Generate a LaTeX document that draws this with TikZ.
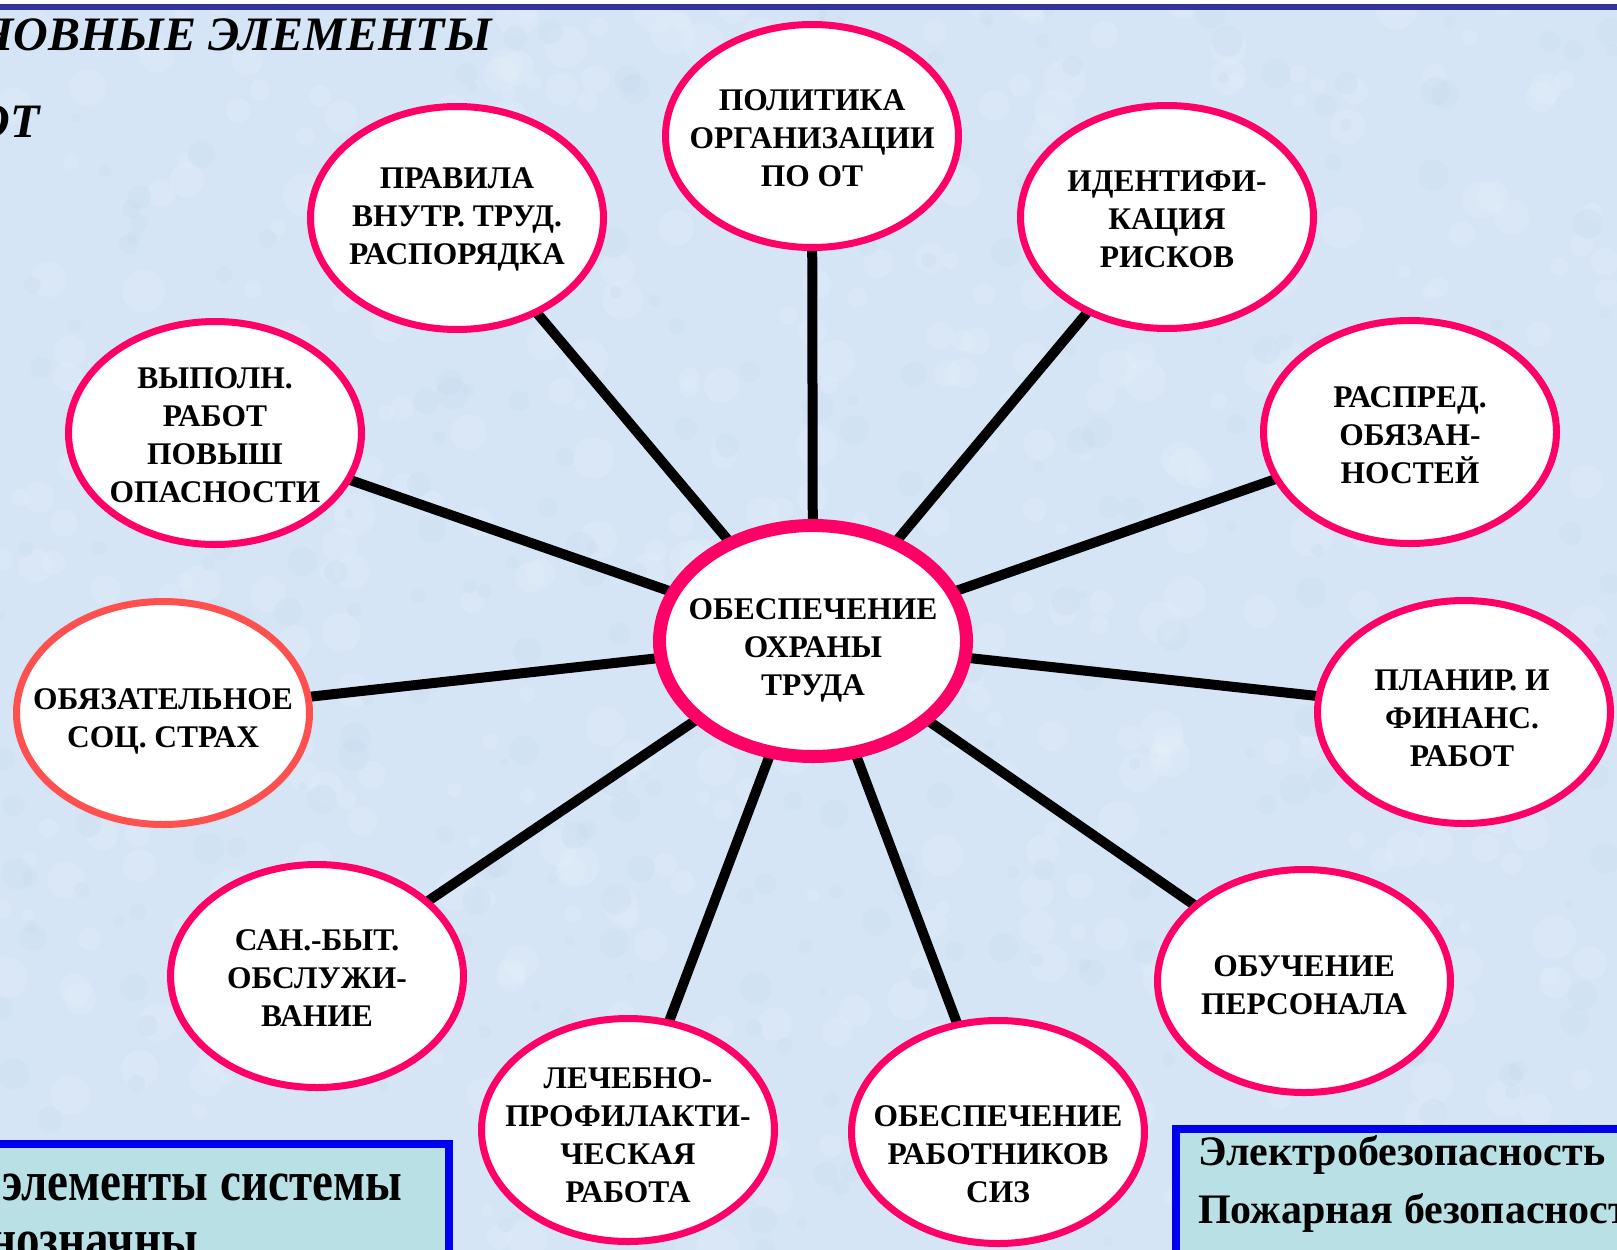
\documentclass[tikz,border=0pt]{standalone}
\usepackage{fontspec}
\setmainfont{Liberation Serif}
\usepackage{graphicx}
\usetikzlibrary{shapes.geometric,backgrounds}
\definecolor{bgblue}{HTML}{D5E5F5}
\definecolor{bgdark}{HTML}{C6DAEF}
\definecolor{pinkred}{HTML}{FF0066}
\definecolor{coral}{HTML}{FF5050}
\definecolor{barblue}{HTML}{333399}
\definecolor{boxblue}{HTML}{0000F0}
\definecolor{boxfill}{HTML}{B9E0E5}
\begin{document}
\begin{tikzpicture}[x=1pt,y=-1pt,
  ell/.style={ellipse,draw=pinkred,line width=7pt,fill=white,minimum width=293pt,minimum height=223pt,inner sep=0pt},
  lbl/.style={font=\fontsize{31.5}{38}\selectfont\bfseries,align=center,inner sep=0pt},
  spoke/.style={line width=10pt,black},
  infobox/.style={draw=boxblue,line width=8pt,fill=boxfill},
  boxtext/.style={inner sep=0pt,font=\bfseries},
  titletext/.style={inner sep=0pt,font=\fontsize{48}{56}\selectfont\bfseries\itshape}]
\useasboundingbox (0,0) rectangle (1617,1250);

% ellipses
\node[ell] (n1) at (812,136) {};
\node[ell] (n2) at (1167,217) {};
\node[ell] (n3) at (1410,432) {};
\node[ell] (n4) at (1464,712) {};
\node[ell] (n5) at (1304,981) {};
\node[ell] (n6) at (998,1132) {};
\node[ell] (n7) at (628,1130) {};
\node[ell] (n8) at (317,976) {};
\node[ell,draw=coral] (n9) at (163,713) {};
\node[ell] (n10) at (215,433) {};
\node[ell] (n11) at (457,218) {};
\node[ell,line width=13pt,minimum width=307pt,minimum height=231pt] (c) at (813,641) {};

% labels
\node[lbl] (t1) at (812,138) {ПОЛИТИКА\\ОРГАНИЗАЦИИ\\ПО ОТ};
\node[lbl] (t2) at (1167,219) {ИДЕНТИФИ-\\КАЦИЯ\\РИСКОВ};
\node[lbl] (t3) at (1410,435) {РАСПРЕД.\\ОБЯЗАН-\\НОСТЕЙ};
\node[lbl] (t4) at (1462,718) {ПЛАНИР. И\\ФИНАНС.\\РАБОТ};
\node[lbl] (t5) at (1304,985) {ОБУЧЕНИЕ\\ПЕРСОНАЛА};
\node[lbl] (t6) at (998,1154) {ОБЕСПЕЧЕНИЕ\\РАБОТНИКОВ\\СИЗ};
\node[lbl] (t7) at (628,1135) {ЛЕЧЕБНО-\\ПРОФИЛАКТИ-\\ЧЕСКАЯ\\РАБОТА};
\node[lbl] (t8) at (317,978) {САН.-БЫТ.\\ОБСЛУЖИ-\\ВАНИЕ};
\node[lbl] (t9) at (163,721) {ОБЯЗАТЕЛЬНОЕ\\СОЦ. СТРАХ};
\node[lbl] (t10) at (215,435) {ВЫПОЛН.\\РАБОТ\\ПОВЫШ\\ОПАСНОСТИ};
\node[lbl] (t11) at (457,219) {ПРАВИЛА\\ВНУТР. ТРУД.\\РАСПОРЯДКА};
\node[lbl] (tc) at (813,650) {ОБЕСПЕЧЕНИЕ\\ОХРАНЫ\\ТРУДА};

% title
\node[titletext,anchor=base east] (title1) at (492,50) {ОСНОВНЫЕ ЭЛЕМЕНТЫ};
\node[titletext,anchor=base east] (title2) at (40,137) {ОТ};

% bottom boxes
\draw[infobox] (-20,1143.5) rectangle (449,1290);
\draw[infobox] (1176,1129) rectangle (1650,1290);
\node[boxtext,anchor=base east] (bl1) at (402,1200) {\fontsize{47}{58}\selectfont\scalebox{1}[1.2]{элементы системы}};
\node[boxtext,anchor=base east] (bl2) at (198,1258) {\fontsize{47}{58}\selectfont\scalebox{1}[1.2]{нозначны}};
\node[boxtext,anchor=base west] (br1) at (1198,1165) {\fontsize{42}{52}\selectfont Электробезопасность};
\node[boxtext,anchor=base west] (br2) at (1198,1223) {\fontsize{42}{52}\selectfont Пожарная безопасность};

\begin{pgfonlayer}{background}
  \fill[bgblue] (0,0) rectangle (1617,1250);
  \pgfmathsetseed{4321}
  \foreach \i in {1,...,500}{
    \pgfmathsetmacro{\rx}{rnd*1617}
    \pgfmathsetmacro{\ry}{rnd*1250}
    \pgfmathsetmacro{\rr}{6+rnd*16}
    \fill[white,opacity=0.10] (\rx,\ry) circle[radius=\rr pt];
  }
  \foreach \i in {1,...,350}{
    \pgfmathsetmacro{\rx}{rnd*1617}
    \pgfmathsetmacro{\ry}{rnd*1250}
    \pgfmathsetmacro{\rr}{4+rnd*12}
    \fill[bgdark,opacity=0.25] (\rx,\ry) circle[radius=\rr pt];
  }
  \fill[white] (0,0) rectangle (1617,4);
  \fill[barblue] (0,4) rectangle (1617,9.5);
  \foreach \n in {n1,n2,n3,n4,n5,n6,n7,n8,n9,n10,n11}{
    \draw[spoke] (c.center) -- (\n.center);
  }
\end{pgfonlayer}
\end{tikzpicture}
\end{document}
